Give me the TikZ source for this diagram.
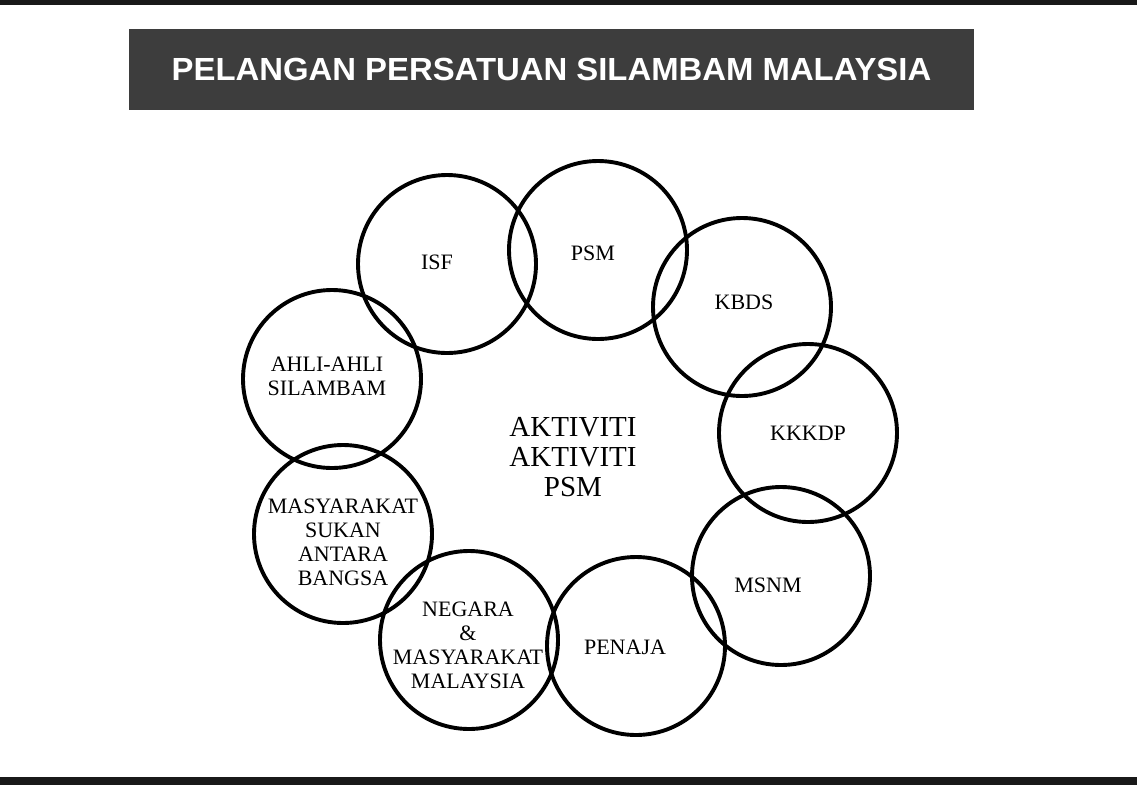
\documentclass[tikz,border=0pt]{standalone}
\usepackage{fontspec}
\setmainfont{Liberation Serif}
\newfontfamily\titlefont{Liberation Sans}
\begin{document}
\begin{tikzpicture}[x=1pt,y=-1pt,
  ring/.style={circle,draw=black,line width=3.9pt,minimum size=178pt,inner sep=0pt},
  lbl/.style={align=center,inner sep=0pt,font=\fontsize{22}{24}\selectfont},
  mainlbl/.style={align=center,inner sep=0pt,font=\fontsize{29}{30}\selectfont},
  titlebar/.style={fill=black!76,minimum width=845pt,minimum height=81pt,inner sep=0pt,
    text=white,font=\titlefont\bfseries\fontsize{32}{34}\selectfont}]
\useasboundingbox (0,0) rectangle (1137,785);
\fill[white] (0,0) rectangle (1137,785);
% scan borders
\fill[black!90] (0,0) rectangle (1137,5);
\fill[black!90] (0,777) rectangle (1137,785);
% title
\node[titlebar] (title) at (551.5,69.5) {\raisebox{-2pt}{\scalebox{1.027}[1]{PELANGAN PERSATUAN SILAMBAM MALAYSIA}}};
% circles
\node[ring] (isf)  at (447,264) {};
\node[ring] (psm)  at (598,250) {};
\node[ring] (kbds) at (742,307) {};
\node[ring] (kkkdp) at (808,433) {};
\node[ring] (msnm) at (781,576) {};
\node[ring] (penaja) at (636,646) {};
\node[ring] (negara) at (469,640) {};
\node[ring] (mssab) at (343,534) {};
\node[ring] (ahli) at (332,379) {};
% labels
\node[lbl] (tisf) at (437,262) {ISF};
\node[lbl] (tpsm) at (593,253) {PSM};
\node[lbl] (tkbds) at (744,302) {KBDS};
\node[lbl] (tkkkdp) at (808,433) {KKKDP};
\node[lbl] (tmsnm) at (768,585) {MSNM};
\node[lbl] (tpenaja) at (625,647) {PENAJA};
\node[lbl] (tnegara) at (468,645.5) {NEGARA\\\&\\MASYARAKAT\\MALAYSIA};
\node[lbl] (tmssab) at (343,542.5) {MASYARAKAT\\SUKAN\\ANTARA\\BANGSA};
\node[lbl] (tahli) at (327,376) {AHLI-AHLI\\SILAMBAM};
\node[mainlbl] (center) at (573,457) {AKTIVITI\\AKTIVITI\\PSM};
\end{tikzpicture}
\end{document}
